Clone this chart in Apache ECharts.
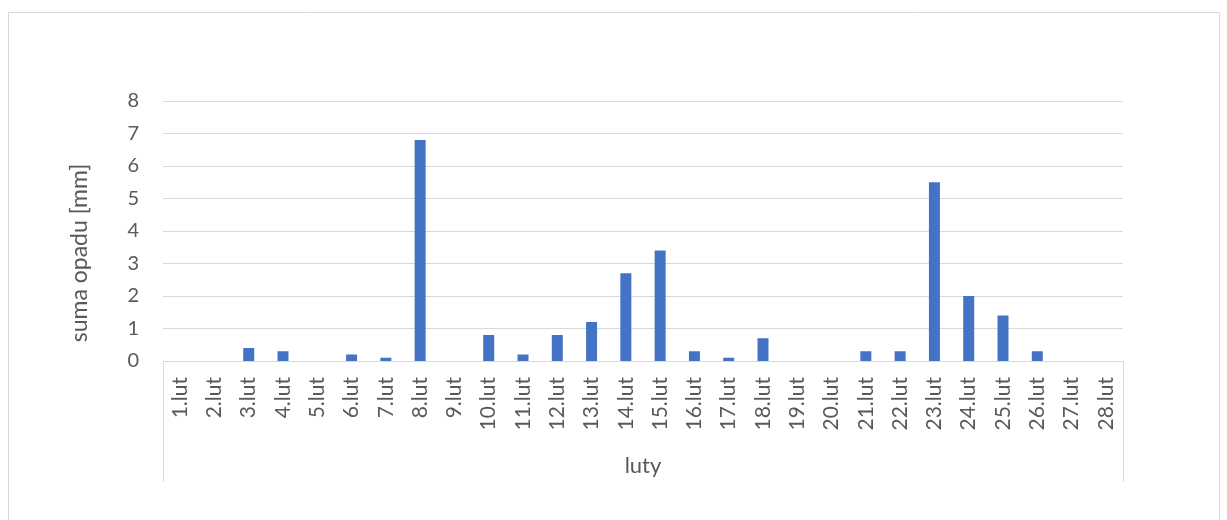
<!DOCTYPE html>
<html>
<head>
<meta charset="utf-8">
<script src="https://cdn.jsdelivr.net/npm/echarts@6/dist/echarts.min.js"></script>
<style>
  html, body { margin: 0; padding: 0; background: #fff; }
  #chart { width: 1227px; height: 520px; }
</style>
</head>
<body>
<div id="chart"></div>
<script>
// dni lutego
const days = ['1.lut', '2.lut', '3.lut', '4.lut', '5.lut', '6.lut', '7.lut', '8.lut', '9.lut', '10.lut',
  '11.lut', '12.lut', '13.lut', '14.lut', '15.lut', '16.lut', '17.lut', '18.lut', '19.lut', '20.lut',
  '21.lut', '22.lut', '23.lut', '24.lut', '25.lut', '26.lut', '27.lut', '28.lut'];
// suma opadu [mm]
const rain = [0, 0, 0.4, 0.3, 0, 0.2, 0.1, 6.8, 0, 0.8,
  0.2, 0.8, 1.2, 2.7, 3.4, 0.3, 0.1, 0.7, 0, 0,
  0.3, 0.3, 5.5, 2.0, 1.4, 0.3, 0, 0];
const yTicks = [0, 1, 2, 3, 4, 5, 6, 7, 8];
const groupName = 'luty';
const yTitle = 'suma opadu [mm]';

const font = 'Lato, "Open Sans", sans-serif';
const grey = '#595959';
const lineGrey = '#d9d9d9';

let myChart = echarts.init(document.getElementById('chart'));

let grid = { left: 163, right: 104, top: 101, bottom: 159 };

let xAxis = {
  type: 'category',
  data: days,
  axisLine: { show: true, lineStyle: { color: lineGrey, width: 1 } },
  axisTick: { show: false },
  axisLabel: {
    rotate: 90,
    interval: 0,
    margin: 16,
    color: grey,
    fontSize: 21,
    fontFamily: font
  }
};

let yAxis = {
  type: 'value',
  min: yTicks[0],
  max: yTicks[yTicks.length - 1],
  interval: 1,
  axisLine: { show: false },
  axisTick: { show: false },
  axisLabel: { color: grey, fontSize: 20, fontFamily: font, margin: 24 },
  splitLine: { lineStyle: { color: lineGrey, width: 1 } }
};

let series = [{
  type: 'bar',
  data: rain,
  barWidth: 11,
  itemStyle: { color: '#4472c4' }
}];

// ramki jak w Excelu
let graphic = [
  { type: 'rect', shape: { x: 8.5, y: 12.5, width: 1211, height: 520 },
    style: { fill: 'none', stroke: lineGrey, lineWidth: 1 }, silent: true },
  { type: 'line', shape: { x1: 163.5, y1: 361, x2: 163.5, y2: 482 },
    style: { stroke: lineGrey, lineWidth: 1 }, silent: true },
  { type: 'line', shape: { x1: 1123.5, y1: 361, x2: 1123.5, y2: 482 },
    style: { stroke: lineGrey, lineWidth: 1 }, silent: true },
  { type: 'text', x: 643, y: 466,
    style: { text: groupName, fill: grey, font: '22px ' + font, align: 'center', verticalAlign: 'middle' } },
  { type: 'text', x: 80, y: 253, rotation: Math.PI / 2,
    style: { text: yTitle, fill: grey, font: '23px ' + font, align: 'center', verticalAlign: 'middle' } }
];

myChart.setOption({
  animation: false,
  grid: grid,
  xAxis: xAxis,
  yAxis: yAxis,
  series: series,
  graphic: graphic
});
</script>
</body>
</html>
